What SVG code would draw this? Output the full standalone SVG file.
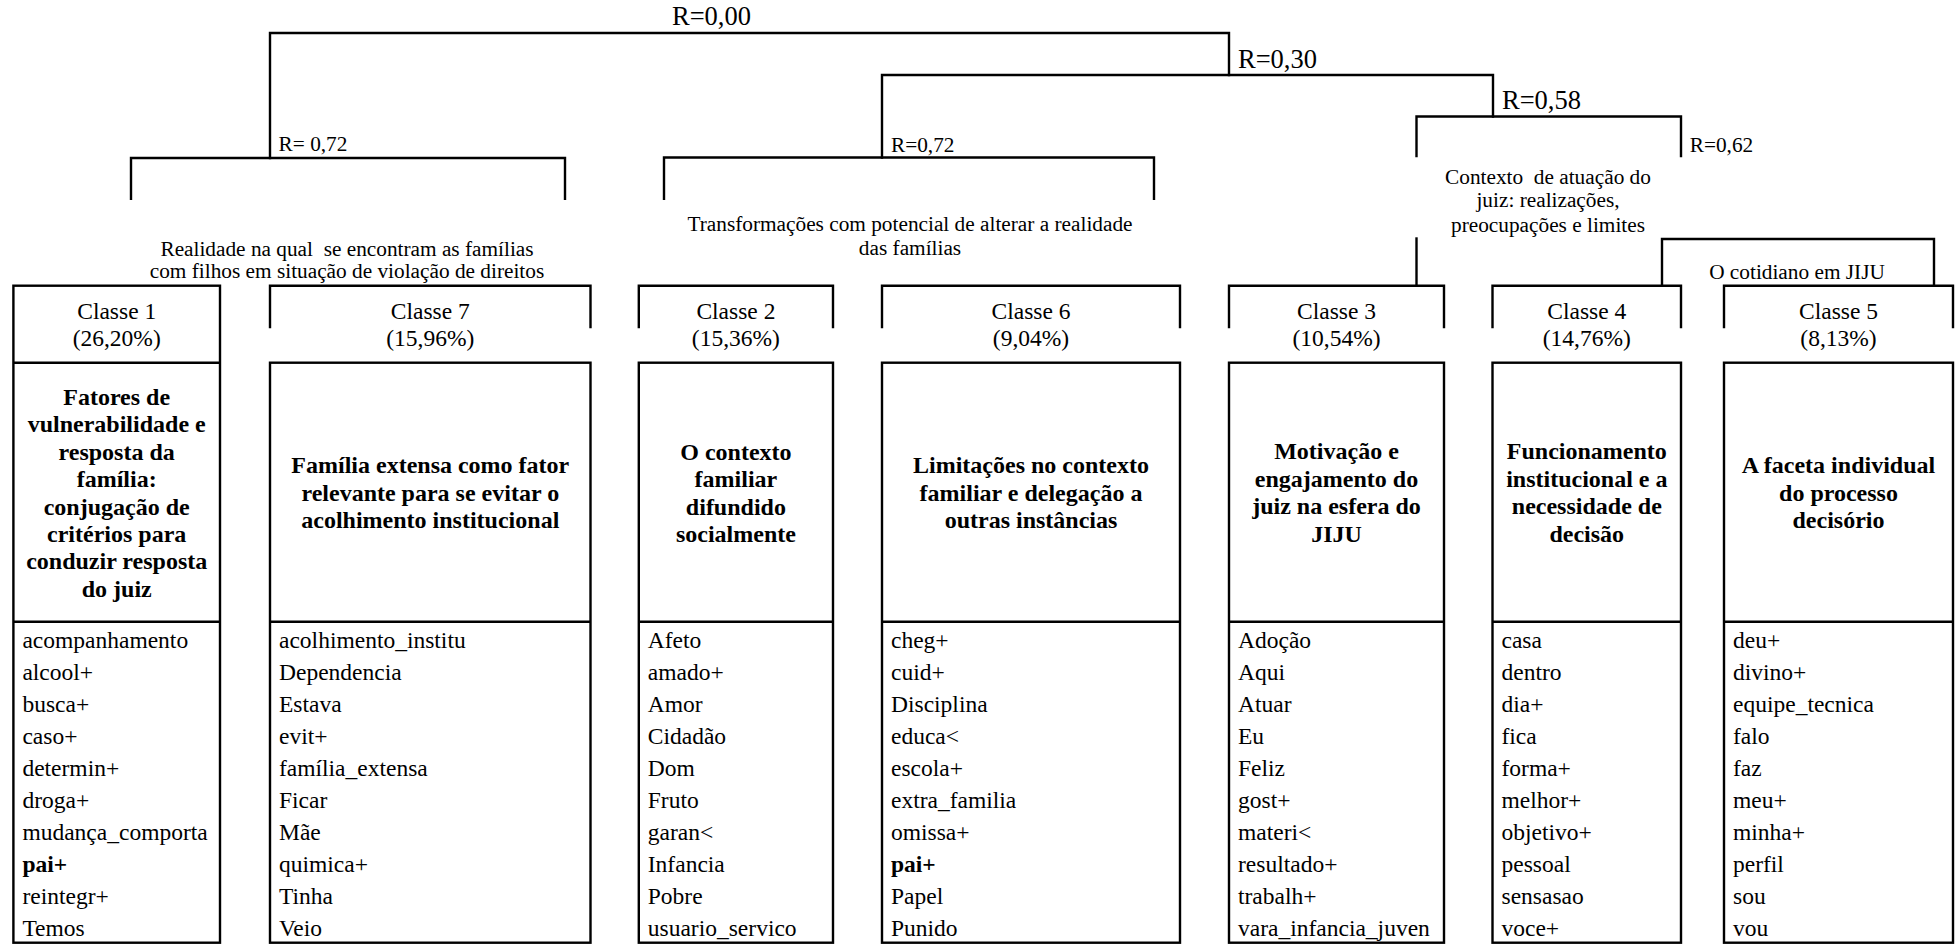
<svg xmlns="http://www.w3.org/2000/svg" width="1955" height="944" viewBox="0 0 1955 944">
<style>
.ln{stroke:#000;stroke-width:2.4;fill:none;stroke-linecap:square}
.bx{stroke:#000;stroke-width:2.4;fill:none}
text{font-family:"Liberation Serif","Times New Roman",serif;fill:#000}
.big{font-size:26.5px}
.mid{font-size:21.3px}
.mc{font-size:21.3px;text-anchor:middle}
.hd{font-size:23.5px;text-anchor:middle}
.ttl{font-size:24px;font-weight:bold;text-anchor:middle}
.w{font-size:23.5px}
.b{font-weight:bold}
</style>
<rect width="1955" height="944" fill="#fff"/>
<g id="connectors">
<polyline class="ln" points="270,158 270,33 1229,33 1229,75"/>
<polyline class="ln" points="882,157.5 882,75 1493,75 1493,116.5"/>
<polyline class="ln" points="1416.5,156 1416.5,116.5 1681,116.5 1681,156"/>
<polyline class="ln" points="131,198.7 131,158 565,158 565,198.7"/>
<polyline class="ln" points="664,198.7 664,157.5 1154,157.5 1154,198.7"/>
<line class="ln" x1="1416.5" y1="238.5" x2="1416.5" y2="285.7"/>
<polyline class="ln" points="1662,285.7 1662,239 1934,239 1934,285.7"/>
</g>
<g id="r-labels">
<text class="big" x="672" y="25">R=0,00</text>
<text class="big" x="1238" y="68">R=0,30</text>
<text class="big" x="1502" y="109">R=0,58</text>
<text class="mid" x="278.6" y="151">R= 0,72</text>
<text class="mid" x="891" y="151.5">R=0,72</text>
<text class="mid" x="1689.7" y="151.5">R=0,62</text>
</g>
<g id="cluster-realidade">
<text class="mc" x="347" y="256" xml:space="preserve">Realidade na qual  se encontram as famílias</text>
<text class="mc" x="347" y="278">com filhos em situação de violação de direitos</text>
</g>
<g id="cluster-transformacoes">
<text class="mc" x="910" y="231">Transformações com potencial de alterar a realidade</text>
<text class="mc" x="910" y="255">das famílias</text>
</g>
<g id="cluster-contexto">
<text class="mc" x="1548" y="184.3" xml:space="preserve">Contexto  de atuação do</text>
<text class="mc" x="1548" y="207">juiz: realizações,</text>
<text class="mc" x="1548" y="231.7">preocupações e limites</text>
</g>
<g id="cluster-cotidiano">
<text class="mc" x="1797" y="279.3">O cotidiano em JIJU</text>
</g>

<g id="classe1">
<rect class="bx" x="13.4" y="285.7" width="206.6" height="657"/>
<line class="bx" x1="13.4" y1="362.7" x2="220" y2="362.7"/>
<line class="bx" x1="13.4" y1="621.7" x2="220" y2="621.7"/>
<text class="hd" x="116.7" y="319">Classe 1</text>
<text class="hd" x="116.7" y="346">(26,20%)</text>
<text class="ttl" x="116.7" y="405">Fatores de</text>
<text class="ttl" x="116.7" y="432.4">vulnerabilidade e</text>
<text class="ttl" x="116.7" y="459.8">resposta da</text>
<text class="ttl" x="116.7" y="487.2">família:</text>
<text class="ttl" x="116.7" y="514.6">conjugação de</text>
<text class="ttl" x="116.7" y="542">critérios para</text>
<text class="ttl" x="116.7" y="569.4">conduzir resposta</text>
<text class="ttl" x="116.7" y="596.8">do juiz</text>
<text class="w" x="22.4" y="648">acompanhamento</text>
<text class="w" x="22.4" y="680">alcool+</text>
<text class="w" x="22.4" y="712">busca+</text>
<text class="w" x="22.4" y="744">caso+</text>
<text class="w" x="22.4" y="776">determin+</text>
<text class="w" x="22.4" y="808">droga+</text>
<text class="w" x="22.4" y="840">mudança_comporta</text>
<text class="w b" x="22.4" y="872">pai+</text>
<text class="w" x="22.4" y="904">reintegr+</text>
<text class="w" x="22.4" y="936">Temos</text>
</g>

<g id="classe7">
<polyline class="bx" points="270,328.3 270,285.7 590.5,285.7 590.5,328.3"/>
<rect class="bx" x="270" y="362.7" width="320.5" height="580"/>
<line class="bx" x1="270" y1="621.7" x2="590.5" y2="621.7"/>
<text class="hd" x="430.3" y="319">Classe 7</text>
<text class="hd" x="430.3" y="346">(15,96%)</text>
<text class="ttl" x="430.3" y="473.3">Família extensa como fator</text>
<text class="ttl" x="430.3" y="500.7">relevante para se evitar o</text>
<text class="ttl" x="430.3" y="528.1">acolhimento institucional</text>
<text class="w" x="279" y="648">acolhimento_institu</text>
<text class="w" x="279" y="680">Dependencia</text>
<text class="w" x="279" y="712">Estava</text>
<text class="w" x="279" y="744">evit+</text>
<text class="w" x="279" y="776">família_extensa</text>
<text class="w" x="279" y="808">Ficar</text>
<text class="w" x="279" y="840">Mãe</text>
<text class="w" x="279" y="872">quimica+</text>
<text class="w" x="279" y="904">Tinha</text>
<text class="w" x="279" y="936">Veio</text>
</g>

<g id="classe2">
<polyline class="bx" points="638.8,328.3 638.8,285.7 833,285.7 833,328.3"/>
<rect class="bx" x="638.8" y="362.7" width="194.2" height="580"/>
<line class="bx" x1="638.8" y1="621.7" x2="833" y2="621.7"/>
<text class="hd" x="735.9" y="319">Classe 2</text>
<text class="hd" x="735.9" y="346">(15,36%)</text>
<text class="ttl" x="735.9" y="460">O contexto</text>
<text class="ttl" x="735.9" y="487.4">familiar</text>
<text class="ttl" x="735.9" y="514.8">difundido</text>
<text class="ttl" x="735.9" y="542.2">socialmente</text>
<text class="w" x="647.8" y="648">Afeto</text>
<text class="w" x="647.8" y="680">amado+</text>
<text class="w" x="647.8" y="712">Amor</text>
<text class="w" x="647.8" y="744">Cidadão</text>
<text class="w" x="647.8" y="776">Dom</text>
<text class="w" x="647.8" y="808">Fruto</text>
<text class="w" x="647.8" y="840">garan&lt;</text>
<text class="w" x="647.8" y="872">Infancia</text>
<text class="w" x="647.8" y="904">Pobre</text>
<text class="w" x="647.8" y="936">usuario_servico</text>
</g>

<g id="classe6">
<polyline class="bx" points="882,328.3 882,285.7 1180,285.7 1180,328.3"/>
<rect class="bx" x="882" y="362.7" width="298" height="580"/>
<line class="bx" x1="882" y1="621.7" x2="1180" y2="621.7"/>
<text class="hd" x="1031" y="319">Classe 6</text>
<text class="hd" x="1031" y="346">(9,04%)</text>
<text class="ttl" x="1031" y="473.3">Limitações no contexto</text>
<text class="ttl" x="1031" y="500.7">familiar e delegação a</text>
<text class="ttl" x="1031" y="528.1">outras instâncias</text>
<text class="w" x="891" y="648">cheg+</text>
<text class="w" x="891" y="680">cuid+</text>
<text class="w" x="891" y="712">Disciplina</text>
<text class="w" x="891" y="744">educa&lt;</text>
<text class="w" x="891" y="776">escola+</text>
<text class="w" x="891" y="808">extra_familia</text>
<text class="w" x="891" y="840">omissa+</text>
<text class="w b" x="891" y="872">pai+</text>
<text class="w" x="891" y="904">Papel</text>
<text class="w" x="891" y="936">Punido</text>
</g>

<g id="classe3">
<polyline class="bx" points="1229,328.3 1229,285.7 1444,285.7 1444,328.3"/>
<rect class="bx" x="1229" y="362.7" width="215" height="580"/>
<line class="bx" x1="1229" y1="621.7" x2="1444" y2="621.7"/>
<text class="hd" x="1336.5" y="319">Classe 3</text>
<text class="hd" x="1336.5" y="346">(10,54%)</text>
<text class="ttl" x="1336.5" y="459.3">Motivação e</text>
<text class="ttl" x="1336.5" y="486.7">engajamento do</text>
<text class="ttl" x="1336.5" y="514.1">juiz na esfera do</text>
<text class="ttl" x="1336.5" y="541.5">JIJU</text>
<text class="w" x="1238" y="648">Adoção</text>
<text class="w" x="1238" y="680">Aqui</text>
<text class="w" x="1238" y="712">Atuar</text>
<text class="w" x="1238" y="744">Eu</text>
<text class="w" x="1238" y="776">Feliz</text>
<text class="w" x="1238" y="808">gost+</text>
<text class="w" x="1238" y="840">materi&lt;</text>
<text class="w" x="1238" y="872">resultado+</text>
<text class="w" x="1238" y="904">trabalh+</text>
<text class="w" x="1238" y="936">vara_infancia_juven</text>
</g>

<g id="classe4">
<polyline class="bx" points="1492.5,328.3 1492.5,285.7 1681,285.7 1681,328.3"/>
<rect class="bx" x="1492.5" y="362.7" width="188.5" height="580"/>
<line class="bx" x1="1492.5" y1="621.7" x2="1681" y2="621.7"/>
<text class="hd" x="1586.8" y="319">Classe 4</text>
<text class="hd" x="1586.8" y="346">(14,76%)</text>
<text class="ttl" x="1586.8" y="459.3">Funcionamento</text>
<text class="ttl" x="1586.8" y="486.7">institucional e a</text>
<text class="ttl" x="1586.8" y="514.1">necessidade de</text>
<text class="ttl" x="1586.8" y="541.5">decisão</text>
<text class="w" x="1501.5" y="648">casa</text>
<text class="w" x="1501.5" y="680">dentro</text>
<text class="w" x="1501.5" y="712">dia+</text>
<text class="w" x="1501.5" y="744">fica</text>
<text class="w" x="1501.5" y="776">forma+</text>
<text class="w" x="1501.5" y="808">melhor+</text>
<text class="w" x="1501.5" y="840">objetivo+</text>
<text class="w" x="1501.5" y="872">pessoal</text>
<text class="w" x="1501.5" y="904">sensasao</text>
<text class="w" x="1501.5" y="936">voce+</text>
</g>

<g id="classe5">
<polyline class="bx" points="1724,328.3 1724,285.7 1953,285.7 1953,328.3"/>
<rect class="bx" x="1724" y="362.7" width="229" height="580"/>
<line class="bx" x1="1724" y1="621.7" x2="1953" y2="621.7"/>
<text class="hd" x="1838.5" y="319">Classe 5</text>
<text class="hd" x="1838.5" y="346">(8,13%)</text>
<text class="ttl" x="1838.5" y="473.3">A faceta individual</text>
<text class="ttl" x="1838.5" y="500.7">do processo</text>
<text class="ttl" x="1838.5" y="528.1">decisório</text>
<text class="w" x="1733" y="648">deu+</text>
<text class="w" x="1733" y="680">divino+</text>
<text class="w" x="1733" y="712">equipe_tecnica</text>
<text class="w" x="1733" y="744">falo</text>
<text class="w" x="1733" y="776">faz</text>
<text class="w" x="1733" y="808">meu+</text>
<text class="w" x="1733" y="840">minha+</text>
<text class="w" x="1733" y="872">perfil</text>
<text class="w" x="1733" y="904">sou</text>
<text class="w" x="1733" y="936">vou</text>
</g>
</svg>
